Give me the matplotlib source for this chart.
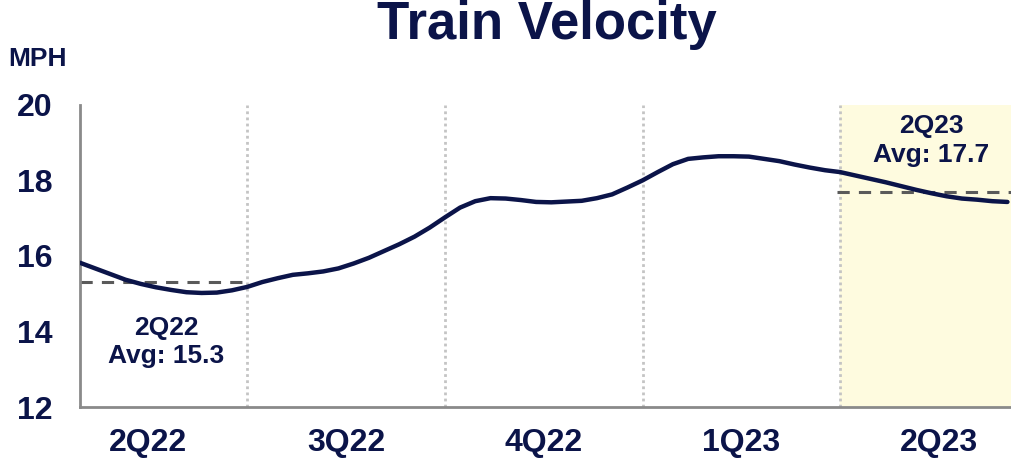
import matplotlib.pyplot as plt

# weekly train velocity, weeks counted from start of 2Q22 (quarter = 13 weeks)
weeks = list(range(2, 64))
mph = [15.82, 15.67, 15.52, 15.37, 15.26, 15.17, 15.10, 15.04, 15.02, 15.03,
       15.09, 15.18, 15.31, 15.41, 15.50, 15.54, 15.59, 15.67, 15.80, 15.95,
       16.13, 16.31, 16.51, 16.75, 17.02, 17.28, 17.45, 17.53, 17.52, 17.48,
       17.43, 17.42, 17.44, 17.46, 17.53, 17.63, 17.81, 18.00, 18.22, 18.43,
       18.57, 18.61, 18.64, 18.64, 18.63, 18.57, 18.51, 18.42, 18.34, 18.27,
       18.22, 18.13, 18.04, 17.95, 17.85, 17.75, 17.66, 17.58, 17.52, 17.49,
       17.45, 17.43]

quarters = ["2Q22", "3Q22", "4Q22", "1Q23", "2Q23"]
avg_labels = ["2Q22", "2Q23"]
avg_values = [15.3, 17.7]

navy = "#0b1449"
plt.rcParams['font.family'] = ['Liberation Sans', 'DejaVu Sans']

fig = plt.figure(figsize=(10.12, 4.62), dpi=100)
ax = fig.add_axes([0.079, 0.119, 0.921, 0.654])

x_end = 63.3
ax.set_xlim(2, x_end)
ax.set_ylim(12, 20)

# current quarter shading
ax.axvspan(52, x_end, color="#fefbdf", zorder=0)

# quarter dividers
for q in [13, 26, 39, 52]:
    ax.axvline(q, color="#c4c4c4", lw=2, ls=(0, (1, 1.2)), zorder=1)

# quarter averages
ax.plot([2, 13], [avg_values[0]] * 2, color="#5a5a5a", lw=2.2, ls=(0, (4, 3)), zorder=2)
ax.plot([51.8, x_end], [avg_values[1]] * 2, color="#5a5a5a", lw=2.2, ls=(0, (4, 3)), zorder=2)

ax.plot(weeks, mph, color=navy, lw=3.2, solid_capstyle="round", zorder=3)

ax.text(7.7, 13.72, f"{avg_labels[0]}\nAvg: {avg_values[0]}", ha="center", va="center",
        fontsize=19, fontweight="bold", color=navy, linespacing=1.25)
ax.text(58.0, 19.05, f"{avg_labels[1]}\nAvg: {avg_values[1]}", ha="center", va="center",
        fontsize=19, fontweight="bold", color=navy, linespacing=1.25)

ax.set_yticks([12, 14, 16, 18, 20])
ax.set_xticks([6.5 + 13 * i for i in range(len(quarters))])
ax.set_xticklabels(quarters)
ax.tick_params(length=0, labelsize=23, labelcolor=navy)
ax.tick_params(axis="x", pad=15)
ax.tick_params(axis="y", pad=20)
for lab in ax.get_xticklabels() + ax.get_yticklabels():
    lab.set_fontweight("bold")

for s in ["top", "right"]:
    ax.spines[s].set_visible(False)
for s in ["left", "bottom"]:
    ax.spines[s].set_color("#8a8a8a")
    ax.spines[s].set_linewidth(2)

fig.text(0.54, 0.945, "Train Velocity", ha="center", va="center",
         fontsize=38, fontweight="bold", color=navy)
fig.text(0.008, 0.872, "MPH", ha="left", va="center",
         fontsize=19, fontweight="bold", color=navy)

fig.savefig("out.png", dpi=100)
